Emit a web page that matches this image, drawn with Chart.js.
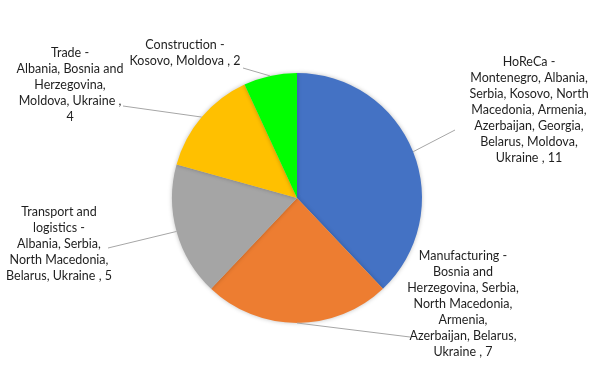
<!DOCTYPE html>
<html>
<head>
<meta charset="utf-8">
<script src="https://cdn.jsdelivr.net/npm/chart.js@4"></script>
<style>
  html, body { margin: 0; padding: 0; background: #fff; }
  #wrap { width: 600px; height: 365px; position: relative; }
</style>
</head>
<body>
<div id="wrap"><canvas id="pie"></canvas></div>
<script>
/* ── Data ───────────────────────────────────────────────── */

var sectors = ['HoReCa', 'Manufacturing', 'Transport and logistics', 'Trade', 'Construction'];
var counts  = [11, 7, 5, 4, 2];
var colours = ['#4472c4', '#ed7d31', '#a5a5a5', '#ffc000', '#00ff00'];

/* Data label text, wrapped as in the original */
var labelLines = [
  ['HoReCa -', 'Montenegro, Albania,', 'Serbia, Kosovo, North', 'Macedonia, Armenia,', 'Azerbaijan, Georgia,', 'Belarus, Moldova,', 'Ukraine , 11'],
  ['Manufacturing -', 'Bosnia and', 'Herzegovina, Serbia,', 'North Macedonia,', 'Armenia,', 'Azerbaijan, Belarus,', 'Ukraine , 7'],
  ['Transport and', 'logistics -', 'Albania, Serbia,', 'North Macedonia,', 'Belarus, Ukraine , 5'],
  ['Trade -', 'Albania, Bosnia and', 'Herzegovina,', 'Moldova, Ukraine ,', '4'],
  ['Construction -', 'Kosovo, Moldova , 2']
];

/* ── Label placement (centre x, first line y, leader end) ── */

var labelBoxes = [
  { x: 529, y: 62,  lx: 455, ly: 130 },
  { x: 463, y: 256, lx: 410, ly: 337 },
  { x: 59,  y: 212, lx: 108, ly: 248 },
  { x: 70,  y: 53,  lx: 123, ly: 106 },
  { x: 185, y: 45,  lx: 243, ly: 68 }
];

/* ── Plugins ────────────────────────────────────────────── */

var pieShadow = {
  id: 'pieShadow',
  beforeDatasetsDraw: function (chart) {
    var ctx = chart.ctx;
    ctx.save();
    ctx.shadowColor = 'rgba(0, 0, 0, 0.25)';
    ctx.shadowBlur = 4;
  },
  afterDatasetsDraw: function (chart) {
    chart.ctx.restore();
  }
};

var leaderLabels = {
  id: 'leaderLabels',
  afterDraw: function (chart) {
    var ctx = chart.ctx;
    var arcs = chart.getDatasetMeta(0).data;
    ctx.save();
    arcs.forEach(function (arc, i) {
      var box = labelBoxes[i];
      var mid = (arc.startAngle + arc.endAngle) / 2;
      var px = arc.x + Math.cos(mid) * arc.outerRadius;
      var py = arc.y + Math.sin(mid) * arc.outerRadius;

      ctx.strokeStyle = '#a6a6a6';
      ctx.lineWidth = 1;
      ctx.beginPath();
      ctx.moveTo(px, py);
      ctx.lineTo(box.lx, box.ly);
      ctx.stroke();

      ctx.fillStyle = '#1f1f1f';
      ctx.font = '12.5px Lato, "Open Sans", sans-serif';
      ctx.textAlign = 'center';
      ctx.textBaseline = 'middle';
      labelLines[i].forEach(function (line, k) {
        ctx.fillText(line, box.x, box.y + k * 16);
      });
    });
    ctx.restore();
  }
};

/* ── Chart ──────────────────────────────────────────────── */

new Chart(document.getElementById('pie'), {
  type: 'pie',
  data: {
    labels: sectors,
    datasets: [{
      data: counts,
      backgroundColor: colours,
      borderWidth: 0
    }]
  },
  options: {
    responsive: true,
    maintainAspectRatio: false,
    animation: false,
    layout: { padding: { top: 73, bottom: 42, left: 172, right: 178 } },
    plugins: {
      legend: { display: false },
      tooltip: { enabled: false }
    }
  },
  plugins: [pieShadow, leaderLabels]
});
</script>
</body>
</html>
